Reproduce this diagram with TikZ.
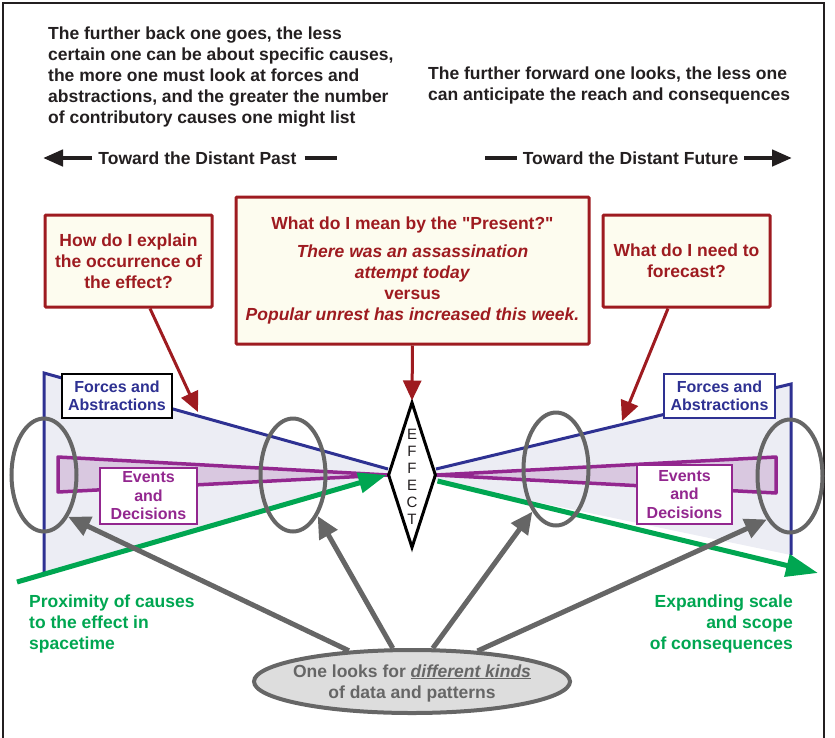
\documentclass[tikz,border=0pt]{standalone}
\usepackage{fontspec}
\setmainfont{Liberation Sans}[Ligatures=TeXOff]
\usepackage{xcolor}
\usetikzlibrary{shapes.geometric, arrows.meta}

\definecolor{ink}{RGB}{35,31,32}
\definecolor{qred}{RGB}{158,27,32}
\definecolor{cream}{RGB}{253,252,239}
\definecolor{navy}{RGB}{46,49,146}
\definecolor{haze}{RGB}{236,237,244}
\definecolor{plum}{RGB}{147,39,143}
\definecolor{lilac}{RGB}{217,200,224}
\definecolor{grass}{RGB}{0,166,81}
\definecolor{slate}{RGB}{102,102,102}
\definecolor{mist}{RGB}{221,221,221}

\begin{document}
\begin{tikzpicture}[x=1pt, y=-1pt,
    font=\bfseries\fontsize{17.5}{21}\selectfont,
    question/.style={draw=qred, line width=3pt, fill=cream, text=qred, align=center, rounded corners=1pt, inner sep=0pt},
    tag/.style={fill=white, line width=2pt, align=center, inner sep=0pt, font=\bfseries\fontsize{16}{18.5}\selectfont},
    lens/.style={ellipse, draw=slate, line width=4pt, minimum width=65pt, minimum height=113pt, inner sep=0pt},
    probe/.style={draw=slate, line width=5pt, -{Triangle[length=22pt, width=20pt]}},
    ask/.style={draw=qred, line width=3pt, -{Triangle[length=20pt, width=18pt]}},
    flow/.style={draw=grass, line width=5pt, -{Triangle[length=28pt, width=20pt]}},
    heading/.style={draw=ink, line width=4.5pt}]
    \useasboundingbox (0,0) rectangle (835,737);
    \draw[ink, line width=1.5pt] (3,745) -- (3,3) -- (824,3) -- (824,745);

    % Notes at the top
    \node[ink, anchor=north west, align=left, inner sep=0pt] (back) at (48,27) {The further back one goes, the less\\certain one can be about specific causes,\\the more one must look at forces and\\abstractions, and the greater the number\\of contributory causes one might list};
    \node[ink, anchor=north west, align=left, inner sep=0pt] (ahead) at (428,67) {The further forward one looks, the less one\\can anticipate the reach and consequences};

    % Time directions
    \node[ink, inner sep=0pt] (past) at (197.5,158) {Toward the Distant Past};
    \node[ink, inner sep=0pt] (future) at (630.5,158) {Toward the Distant Future};
    \coordinate (pastend) at (43,158);
    \coordinate (pastdash) at (337,158);
    \coordinate (futdash) at (485,158);
    \coordinate (futend) at (792,158);
    \draw[heading, -{Triangle[length=20pt, width=16pt]}] ([xshift=-6pt]past.west) -- (pastend);
    \draw[heading] ([xshift=8pt]past.east) -- (pastdash);
    \draw[heading] (futdash) -- ([xshift=-6pt]future.west);
    \draw[heading, -{Triangle[length=20pt, width=16pt]}] ([xshift=6pt]future.east) -- (futend);

    % Questions
    \node[question, minimum width=353pt, minimum height=147pt] (present) at (412.5,270.5) {What do I mean by the "Present?"\\[7pt]\textit{There was an assassination}\\\textit{attempt today}\\versus\\\textit{Popular unrest has increased this week.}};
    \foreach \x/\name/\txt in {128.5/explain/{How do I explain\\the occurrence of\\the effect?}, 686.5/forecast/{What do I need to\\forecast?}} {
        \node[question, minimum width=167pt, minimum height=92pt] (\name) at (\x,261) {\txt};
    }

    % Forces and abstractions
    \fill[haze] (44,373) -- (388,469) -- (388,476) -- (44,572) -- cycle;
    \draw[navy, line width=3pt] (44,572) -- (44,373) -- (388,469);
    \fill[haze] (436,469) -- (791,384) -- (791,555) -- (436,481) -- cycle;
    \draw[navy, line width=3pt] (436,469) -- (791,384) -- (791,555);

    % Events and decisions
    \draw[plum, fill=lilac, line width=3.5pt, line join=round] (58,457) -- (388,475) -- (58,492) -- cycle;
    \draw[plum, fill=lilac, line width=3.5pt, line join=round] (776,457) -- (436,475) -- (776,493) -- cycle;

    % Effect
    \node[diamond, draw=black, fill=white, line width=3pt, minimum width=48pt, minimum height=146pt, inner sep=0pt] (effect) at (412,475) {};
    \node[text=ink, align=center, inner sep=0pt, font=\mdseries\fontsize{15}{17}\selectfont] (efftxt) at (412,477) {E\\F\\F\\E\\C\\T};

    % Proximity and scope
    \coordinate (causes) at (17,582);
    \coordinate (reach) at (818,573);
    \draw[flow] (causes) -- (effect.west);
    \draw[flow, -{Triangle[length=32pt, width=22pt]}] ([yshift=-6pt]effect.east) -- (reach);
    \node[text=grass, anchor=north west, align=left, inner sep=0pt] (proximity) at (29,595) {Proximity of causes\\to the effect in\\spacetime};
    \node[text=grass, anchor=north east, align=right, inner sep=0pt] (scope) at (793,595) {Expanding scale\\and scope\\of consequences};

    % Question arrows
    \coordinate (pastcue) at (198,412);
    \coordinate (futcue) at (622,421);
    \draw[ask] ([xshift=21.5pt]explain.south) -- (pastcue);
    \draw[ask] ([xshift=-18.5pt]forecast.south) -- (futcue);
    \draw[ask] (present.south) -- (effect.north);

    % Lenses
    \foreach \x/\y/\name in {44/475/lensA, 293/475/lensB, 556/469/lensC, 790/476/lensD} {
        \node[lens] (\name) at (\x,\y) {};
    }

    % Labels
    \node[tag, draw=black, text=navy, minimum width=110pt, minimum height=44pt] (forceL) at (117,396) {Forces and\\Abstractions};
    \node[tag, draw=navy, text=navy, minimum width=111pt, minimum height=44pt] (forceR) at (719.5,396) {Forces and\\Abstractions};
    \node[tag, draw=plum, text=plum, minimum width=97pt, minimum height=56pt] (eventL) at (148.5,496) {Events\\and\\Decisions};
    \node[tag, draw=plum, text=plum, minimum width=95pt, minimum height=59pt] (eventR) at (684.5,494.5) {Events\\and\\Decisions};

    % Kinds of data
    \node[ellipse, draw=slate, line width=4pt, fill=mist, minimum width=316pt, minimum height=63pt, inner sep=0pt] (look) at (412,681.5) {};
    \node[text=slate, align=center, inner sep=0pt] (looktxt) at (412,683) {One looks for \underline{\textit{different kinds}}\\of data and patterns};
    \foreach \a/\target in {154/lensA.-60, 120/lensB.-59, 58/lensC.-119, 25/lensD.-118} {
        \draw[probe] (look.\a) -- (\target);
    }
\end{tikzpicture}
\end{document}
